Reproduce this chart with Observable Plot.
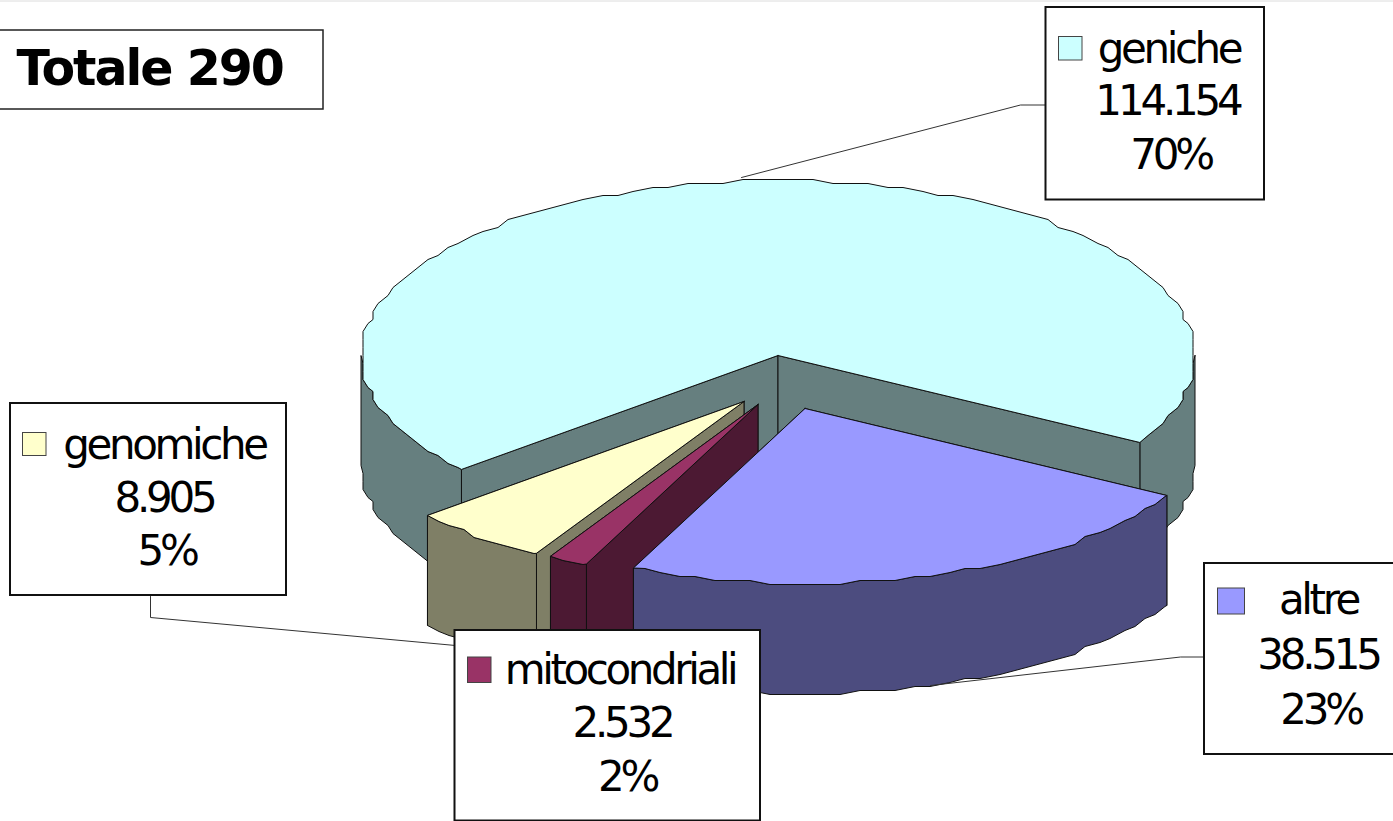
<!DOCTYPE html>
<html>
<head>
<meta charset="utf-8">
<style>
  html, body { margin: 0; padding: 0; background: #fff; }
  svg { display: block; }
  .tight text { letter-spacing: -4.2px; }
  .names text { letter-spacing: -3.4px; }
  .headline text { letter-spacing: -2px; }
</style>
<script src="https://cdn.jsdelivr.net/npm/d3@7"></script>
<script src="https://cdn.jsdelivr.net/npm/@observablehq/plot@0.6"></script>
</head>
<body>
<script>
// Sequences by class, clockwise from the front-right edge of the pie
const categories = ["altre", "mitocondriali", "genomiche", "geniche"];
const values = [38515, 2532, 8905, 114154];
const topColors = ["#9999ff", "#993366", "#ffffcc", "#ccffff"];
const wallColors = ["#4c4c7f", "#4c1933", "#7f7f66", "#667f7f"];
const headline = "Totale 290";

// Pie projection, in canvas units
const center = {x: 777.5, y: 355};
const radius = {x: 417, y: 175};
const depth = 110;
const startAngle = 29.8;
const pulledOut = [[27, 53], [-20, 49], [-34, 46], [0, 0]];
const grid = {x: 5, y: 4};
const arcStep = 2.5;

const total = d3.sum(values);
const rad = (a) => (a * Math.PI) / 180;

// Ellipse outline between two angles, rounded to a coarse device grid
function arc(a0, a1, cx, cy) {
  const at = (a, snap) => {
    let dx = radius.x * Math.cos(rad(a));
    let dy = radius.y * Math.sin(rad(a));
    if (snap) {
      dx = Math.round(dx / grid.x) * grid.x;
      dy = Math.round(dy / grid.y) * grid.y;
    }
    return [cx + dx, cy + dy];
  };
  const pts = [at(a0, false)];
  for (let k = Math.floor(a0 / arcStep) + 1; k * arcStep < a1; ++k) {
    pts.push(at(k * arcStep, true));
  }
  pts.push(at(a1, false));
  return pts;
}

// Closed polygons in back-to-front drawing order
const polygons = [];
function addPolygon(pts, fill) {
  const id = polygons.length ? polygons[polygons.length - 1].id + 1 : 0;
  [...pts, pts[0]].forEach(([x, y]) => polygons.push({id, x, y, fill}));
}
const lowered = (pts) => pts.map(([x, y]) => [x, y + depth]).reverse();
const wall = (pts, fill) => addPolygon([...pts, ...lowered(pts)], fill);

let cursor = startAngle;
const sweeps = values.map((v) => {
  const s = {a0: cursor, a1: cursor + (v / total) * 360};
  cursor = s.a1;
  return s;
});

// The large slice stays in place and is drawn first
{
  const i = 3, {a0, a1} = sweeps[i];
  const {x: cx, y: cy} = center;
  const edge = (a) => [cx + radius.x * Math.cos(rad(a)), cy + radius.y * Math.sin(rad(a))];
  wall(arc(a0, 180, cx, cy), wallColors[i]);
  wall(arc(360, a1, cx, cy), wallColors[i]);
  wall([edge(a0), [cx, cy]], wallColors[i]);
  wall([[cx, cy], edge(a1)], wallColors[i]);
  addPolygon([[cx, cy], ...arc(a0, a1, cx, cy)], topColors[i]);
}

// Pulled-out slices: cut face, rim, then top
[2, 1, 0].forEach((i) => {
  const {a0, a1} = sweeps[i];
  const cx = center.x + pulledOut[i][0];
  const cy = center.y + pulledOut[i][1];
  const rim = arc(a0, a1, cx, cy);
  wall([[cx, cy], rim[rim.length - 1]], wallColors[i]);
  wall([[cx, cy], rim[0]], wallColors[i]);
  wall(rim, wallColors[i]);
  addPolygon([[cx, cy], ...rim], topColors[i]);
});

// Callout boxes and their leaders
const boxes = [
  {x1: 1204, x2: 1396, y1: 563, y2: 754, cx: [1318, 1317.5, 1320], lines: [613, 668, 723], sx: 1217.5, sy: 588, sw: 27, sh: 26},
  {x1: 454.5, x2: 760, y1: 630, y2: 820.5, cx: [619.5, 621.5, 626.5], lines: [683, 736, 790], sx: 467.5, sy: 657, sw: 23.5, sh: 25.5},
  {x1: 10, x2: 286, y1: 403, y2: 595, cx: [164, 163.5, 166], lines: [458, 511, 564], sx: 22.5, sy: 432.5, sw: 23.5, sh: 23},
  {x1: 1045.5, x2: 1264, y1: 7, y2: 199.5, cx: [1168.5, 1167, 1170], lines: [62, 114, 168], sx: 1058.5, sy: 36.5, sw: 23.5, sh: 23.5}
];
const leaders = [
  [[1204, 656.5], [1180, 656.5], [930, 685]],
  [[150, 596], [150, 617], [455, 645]],
  [[741, 177], [1020, 104.5], [1046, 104.5]]
].flatMap((pts, id) => pts.map(([x, y]) => ({id, x, y})));

const nameRows = categories.map((text, i) => ({text, x: boxes[i].cx[0], y: boxes[i].lines[0]}));
const figureRows = categories.flatMap((name, i) => [
  values[i].toLocaleString("it-IT", {useGrouping: "always"}),
  `${Math.round((values[i] / total) * 100)}%`
].map((text, k) => ({text, x: boxes[i].cx[k + 1], y: boxes[i].lines[k + 1]})));

const swatches = boxes.map((b, i) => ({
  x1: b.sx, x2: b.sx + b.sw, y1: b.sy, y2: b.sy + b.sh, fill: topColors[i]
}));

const labelStyle = {
  x: "x", y: "y", text: "text", textAnchor: "middle", lineAnchor: "bottom",
  fontFamily: "DejaVu Sans", fontSize: 42, fill: "#000"
};

const chart = Plot.plot({
  width: 1393,
  height: 821,
  margin: 0,
  x: {domain: [0, 1393], range: [0, 1393], axis: null},
  y: {domain: [0, 821], range: [0, 821], axis: null},
  style: {background: "#fff"},
  marks: [
    Plot.ruleY([0.5], {stroke: "#dcdcdc", strokeWidth: 1}),
    Plot.line(polygons, {
      x: "x", y: "y", z: "id", fill: "fill",
      stroke: "#111", strokeWidth: 1, curve: "linear", strokeLinejoin: "round"
    }),
    Plot.line(leaders, {x: "x", y: "y", z: "id", stroke: "#333", strokeWidth: 1, curve: "linear"}),
    Plot.rect(boxes, {x1: "x1", x2: "x2", y1: "y1", y2: "y2", fill: "#fff", stroke: "#111", strokeWidth: 2}),
    Plot.rect([{x1: -4, x2: 323, y1: 30, y2: 109}], {
      x1: "x1", x2: "x2", y1: "y1", y2: "y2", fill: "#fff", stroke: "#222", strokeWidth: 1.5
    }),
    Plot.rect(swatches, {x1: "x1", x2: "x2", y1: "y1", y2: "y2", fill: "fill", stroke: "#444", strokeWidth: 1}),
    Plot.text(nameRows, {...labelStyle, className: "names"}),
    Plot.text(figureRows, {...labelStyle, className: "tight"}),
    Plot.text([headline], {
      x: 16, y: 84, text: (d) => d, textAnchor: "start", lineAnchor: "bottom",
      fontFamily: "DejaVu Sans", fontWeight: "bold", fontSize: 49, fill: "#000", className: "headline"
    })
  ]
});
document.body.appendChild(chart);
</script>
</body>
</html>
